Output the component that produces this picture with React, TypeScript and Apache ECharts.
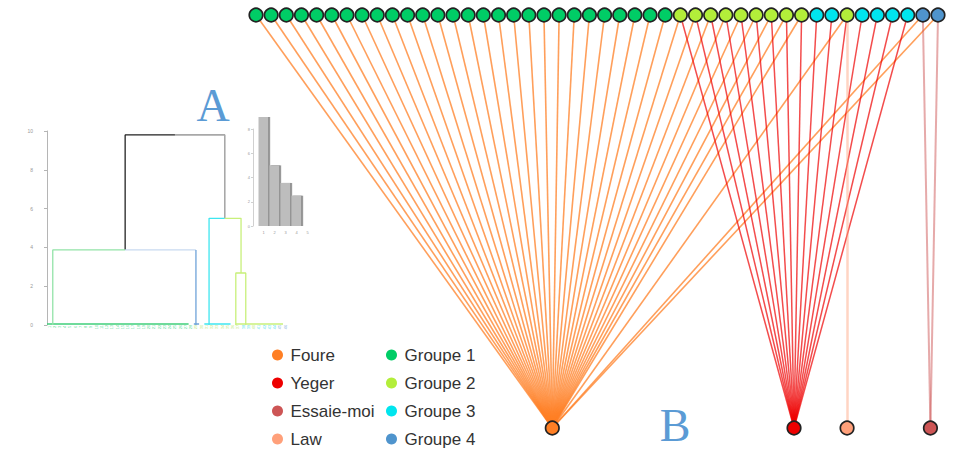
import React, { useEffect, useRef } from 'react';
import * as echarts from 'echarts';

// Group of each top node (left to right)
const topGroups = [
  1, 1, 1, 1, 1, 1, 1, 1, 1, 1, 1, 1, 1, 1, 1, 1, 1, 1, 1, 1, 1, 1, 1, 1, 1, 1, 1, 1,
  2, 2, 2, 2, 2, 2, 2, 2, 2,
  3, 3,
  2,
  3, 3, 3, 3,
  4, 4,
];

// Bottom nodes and their position on the top-node index scale
const bottomNames = ['Foure', 'Yeger', 'Law', 'Essaie-moi'];
const bottomX = [19.55, 35.5, 39.0, 44.5];

// Links: top-node indices attached to each bottom node
const foureLinks = [
  0, 1, 2, 3, 4, 5, 6, 7, 8, 9, 10, 11, 12, 13, 14, 15, 16, 17, 18, 19, 20, 21, 22, 23, 24, 25, 26, 27,
  28, 29, 30, 31, 32, 33, 34, 35, 36, 39, 44, 45,
];
const yegerLinks = [28, 29, 30, 31, 32, 33, 34, 35, 36, 37, 38, 39, 40, 41, 42, 43];
const lawLinks = [39];
const essaieLinks = [44, 45];

// Legend / category names and colours
const categoryNames = ['Foure', 'Yeger', 'Essaie-moi', 'Law', 'Groupe 1', 'Groupe 2', 'Groupe 3', 'Groupe 4'];
const categoryColors = ['#ff7f24', '#ee0000', '#cd5555', '#ffa07a', '#00cd66', '#b3ee3a', '#00e5ee', '#4f94cd'];

// Dendrogram (panel A): segments as [leafIndex, height]
const dendroBlack = [[14.9, 3.87], [14.9, 9.8], [24.4, 9.8]];
const dendroGray = [[24.4, 9.8], [33.9, 9.8], [33.9, 5.5]];
const dendroGreen = [[1.1, 0], [1.1, 3.87], [14.9, 3.87]];
const dendroBlueH = [[14.9, 3.87], [28.4, 3.87]];
const dendroBlueV = [[28.4, 3.87], [28.4, 0]];
const dendroCyan = [[30.9, 0], [30.9, 5.5], [33.9, 5.5]];
const dendroLime = [[33.9, 5.5], [37.0, 5.5], [37.0, 2.68]];
const dendroLimeSub = [[36.0, 0], [36.0, 2.68], [37.9, 2.68], [37.9, 0]];
const baseGreen = [[0, 0.05], [27, 0.05]];
const baseBlue = [[28, 0.05], [29, 0.05]];
const baseCyan = [[30, 0.05], [35, 0.05]];
const baseLime = [[36, 0.05], [45, 0.05]];

// Inset bar chart
const insetCats = ['1', '2', '3', '4', '5'];
const insetValues = [9.0, 5.0, 3.55, 2.5, 0];

const groupLeafColors = ['#2fcf78', '#a8e04a', '#22d8e6', '#5b96cf'];

export default function App() {
  const ref = useRef<HTMLDivElement>(null);
  useEffect(() => {
    const chart = echarts.init(ref.current!, null, { renderer: 'svg' });

    const nodes: any[] = [];
    topGroups.forEach((g, i) => {
      nodes.push({ name: 'n' + (i + 1), value: [i, 1], category: 3 + g });
    });
    const bottomCat = [0, 1, 3, 2];
    bottomNames.forEach((n, j) => {
      nodes.push({ name: n, value: [bottomX[j], 0], category: bottomCat[j] });
    });
    const nTop = topGroups.length;
    const links: any[] = [];
    const addLinks = (list: number[], b: number, color: string, width: number, opacity: number) => {
      list.forEach((t) => {
        links.push({ source: t, target: nTop + b, lineStyle: { color, width, opacity } });
      });
    };
    addLinks(foureLinks, 0, '#ff7f24', 1.6, 0.75);
    addLinks(yegerLinks, 1, '#ee0000', 1.5, 0.7);
    addLinks(lawLinks, 2, '#ffa07a', 2.5, 0.45);
    addLinks(essaieLinks, 3, '#cd5555', 2, 0.5);

    const dLine = (data: number[][], color: string, width = 1.3) => ({
      type: 'line',
      xAxisIndex: 1,
      yAxisIndex: 1,
      data,
      showSymbol: false,
      symbol: 'none',
      silent: true,
      lineStyle: { color, width },
      z: 1,
    });

    const leafData = topGroups.map((g, i) => ({
      value: [i, 0],
      label: { color: groupLeafColors[g - 1] },
    }));

    const legendText = { fontSize: 17, lineHeight: 17, color: '#333', fontFamily: '"Liberation Sans", Arial, sans-serif' };

    const option: any = {
      animation: false,
      grid: [
        { left: 256, top: 15, width: 682, height: 413 },
        { left: 47, top: 131, width: 236, height: 194 },
        { left: 258, top: 129, width: 55, height: 97 },
      ],
      xAxis: [
        { gridIndex: 0, type: 'value', min: 0, max: 45, show: false },
        { gridIndex: 1, type: 'value', min: 0, max: 45, show: false },
        {
          gridIndex: 2, type: 'category', data: insetCats,
          axisLine: { show: false }, axisTick: { show: false },
          axisLabel: { fontSize: 4, color: '#999', margin: 4 },
        },
      ],
      yAxis: [
        { gridIndex: 0, type: 'value', min: 0, max: 1, show: false },
        {
          gridIndex: 1, type: 'value', min: 0, max: 10, interval: 2, offset: 11,
          axisLine: { show: true, lineStyle: { color: '#b5b5b5', width: 1 } },
          axisTick: { show: true, length: 3, lineStyle: { color: '#b5b5b5' } },
          axisLabel: { fontSize: 5, color: '#999', margin: 3 },
          splitLine: { show: false },
        },
        {
          gridIndex: 2, type: 'value', min: 0, max: 8, interval: 2, offset: 5,
          axisLine: { show: true, lineStyle: { color: '#d0d0d0', width: 1 } },
          axisTick: { show: true, length: 2, lineStyle: { color: '#d0d0d0' } },
          axisLabel: { fontSize: 4, color: '#999', margin: 3 },
          splitLine: { show: false },
        },
      ],
      legend: [
        {
          left: 272, top: 346.5, orient: 'vertical', padding: 0,
          data: categoryNames.slice(0, 4), icon: 'circle',
          itemWidth: 16, itemHeight: 11, itemGap: 11, selectedMode: false,
          itemStyle: { borderWidth: 0 },
          textStyle: legendText,
        },
        {
          left: 386, top: 346.5, orient: 'vertical', padding: 0,
          data: categoryNames.slice(4), icon: 'circle',
          itemWidth: 16, itemHeight: 11, itemGap: 11, selectedMode: false,
          itemStyle: { borderWidth: 0 },
          textStyle: legendText,
        },
      ],
      graphic: [
        {
          type: 'text', x: 213, y: 105, z: 100,
          style: { text: 'A', fill: '#5b9bd5', font: '46px "Liberation Serif", "DejaVu Serif", serif', textAlign: 'center', textVerticalAlign: 'middle' },
        },
        {
          type: 'text', x: 675, y: 425, z: 100,
          style: { text: 'B', fill: '#5b9bd5', font: '46px "Liberation Serif", "DejaVu Serif", serif', textAlign: 'center', textVerticalAlign: 'middle' },
        },
      ],
      series: [
        dLine(baseGreen, '#3fcf7a', 1.5),
        dLine(baseBlue, '#6fa3d9', 1.5),
        dLine(baseCyan, '#3ee6f0', 1.5),
        dLine(baseLime, '#c8f07a', 1.5),
        dLine(dendroBlack, '#222222'),
        dLine(dendroGray, '#a8a8a8', 1.6),
        dLine(dendroGreen, '#93e3a8'),
        dLine(dendroBlueH, '#c8daf0'),
        dLine(dendroBlueV, '#6fa3d9'),
        dLine(dendroCyan, '#3ee6f0'),
        dLine(dendroLime, '#c8f07a'),
        dLine(dendroLimeSub, '#c8f07a'),
        {
          type: 'scatter', xAxisIndex: 1, yAxisIndex: 1, symbolSize: 0, silent: true,
          data: leafData,
          label: {
            show: true, position: 'bottom', distance: 2, rotate: 90, fontSize: 4,
            formatter: (p: any) => String(p.dataIndex + 1),
          },
        },
        {
          type: 'bar', xAxisIndex: 2, yAxisIndex: 2, data: insetValues, barWidth: 10,
          clip: false, silent: true,
          itemStyle: { color: '#bdbdbd', shadowColor: '#555', shadowOffsetX: 1.2, shadowOffsetY: 0, shadowBlur: 0 },
        },
        {
          type: 'graph',
          coordinateSystem: 'cartesian2d',
          xAxisIndex: 0,
          yAxisIndex: 0,
          silent: true,
          symbol: 'circle',
          symbolSize: 13.5,
          data: nodes,
          links,
          categories: categoryNames.map((n, i) => ({ name: n, itemStyle: { color: categoryColors[i] } })),
          itemStyle: { borderColor: '#222', borderWidth: 1.7 },
          label: { show: false },
          emphasis: { disabled: true },
          z: 5,
        },
      ],
    };
    chart.setOption(option);
    return () => chart.dispose();
  }, []);
  return <div ref={ref} style={{ position: 'absolute', left: 0, top: 0, width: 955, height: 449 }} />;
}
